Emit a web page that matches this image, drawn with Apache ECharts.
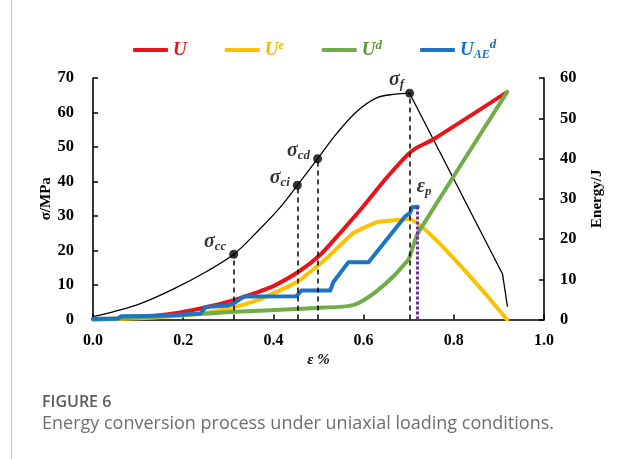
<!DOCTYPE html>
<html><head><meta charset="utf-8">
<script src="https://cdn.jsdelivr.net/npm/echarts@6/dist/echarts.min.js"></script>
<style>html,body{margin:0;padding:0;background:#fff;}#c{width:622px;height:459px;}</style>
</head><body><div id="c"></div>
<script>
// ---- data ----
const sigmaStrain = [0, 0.05, 0.105, 0.179, 0.253, 0.312, 0.363, 0.415, 0.453, 0.498, 0.541, 0.585, 0.63, 0.67, 0.702, 0.908, 0.919];
const sigmaStress = [0.8, 2.4, 4.6, 8.9, 14.0, 18.9, 25.3, 32.5, 38.9, 46.6, 54.0, 60.3, 64.3, 65.3, 65.6, 13.2, 3.7];
const sigmaPeakIndex = 14;

const uStrain = [0, 0.06, 0.12, 0.19, 0.253, 0.312, 0.36, 0.4, 0.455, 0.504, 0.548, 0.6, 0.651, 0.699, 0.718, 0.755, 0.918];
const uEnergy = [0, 0.2, 0.7, 1.7, 3.1, 4.8, 6.6, 8.3, 11.8, 16.1, 21.5, 28.2, 35.2, 41.1, 42.7, 44.8, 56.5];

const ueStrain = [0, 0.1, 0.2, 0.26, 0.312, 0.36, 0.4, 0.455, 0.504, 0.526, 0.578, 0.63, 0.66, 0.70, 0.918];
const ueEnergy = [0, 0.3, 1.0, 1.8, 3.0, 4.6, 6.5, 9.5, 13.9, 16.1, 21.5, 24.2, 24.6, 25.0, 0];

const udStrain = [0, 0.1, 0.2, 0.312, 0.45, 0.5, 0.555, 0.58, 0.6, 0.63, 0.667, 0.70, 0.71, 0.72, 0.918];
const udEnergy = [0, 0.5, 1.1, 1.9, 2.6, 2.9, 3.2, 3.7, 4.8, 7.1, 10.8, 15.0, 18.3, 21.4, 56.5];

const uaeStrain = [0, 0.055, 0.062, 0.12, 0.18, 0.238, 0.25, 0.30, 0.315, 0.334, 0.451, 0.462, 0.526, 0.533, 0.566, 0.611, 0.692, 0.703, 0.708, 0.72];
const uaeEnergy = [0.2, 0.2, 0.8, 0.9, 1.1, 1.5, 3.1, 3.5, 4.2, 5.7, 5.8, 7.2, 7.2, 9.3, 14.2, 14.2, 25.6, 26.5, 27.9, 28.0];

const keyNames = ['cc', 'ci', 'cd', 'f'];
const keyStrain = [0.312, 0.453, 0.498, 0.702];
const keyStress = [18.9, 38.9, 46.6, 65.6];
const keyLabelOffsets = [[-1, -12], [-1, -7], [-1, -8], [1, -13]];

const epsPStrain = 0.72;
const epsPEnergy = 28.0;

const xTicks = [0, 0.2, 0.4, 0.6, 0.8, 1.0];
const seriesNames = ['U', 'Ue', 'Ud', 'UAEd'];
const seriesColors = ['#E8141B', '#FFC000', '#70AD47', '#1B75C4'];

// ---- helpers ----
const zip = (xs, ys) => xs.map((x, i) => [x, ys[i]]);
const SERIF = '"Liberation Serif", "Times New Roman", serif';

const chart = echarts.init(document.getElementById('c'), null, {renderer: 'canvas'});

const legendRich = {
  r: {color: '#E8141B', fontFamily: SERIF, fontStyle: 'italic', fontWeight: 'bold', fontSize: 19},
  y: {color: '#F8B800', fontFamily: SERIF, fontStyle: 'italic', fontWeight: 'bold', fontSize: 19},
  ySup: {color: '#F8B800', fontFamily: SERIF, fontStyle: 'italic', fontWeight: 'bold', fontSize: 12, padding: [0, 0, 9, 0]},
  g: {color: '#5F9632', fontFamily: SERIF, fontStyle: 'italic', fontWeight: 'bold', fontSize: 19},
  gSup: {color: '#5F9632', fontFamily: SERIF, fontStyle: 'italic', fontWeight: 'bold', fontSize: 13, padding: [0, 0, 8, 0]},
  b: {color: '#1B6FC0', fontFamily: SERIF, fontStyle: 'italic', fontWeight: 'bold', fontSize: 19},
  bSub: {color: '#1B6FC0', fontFamily: SERIF, fontStyle: 'italic', fontWeight: 'bold', fontSize: 12, padding: [9, 0, 0, 0]},
  bSup: {color: '#1B6FC0', fontFamily: SERIF, fontStyle: 'italic', fontWeight: 'bold', fontSize: 13, padding: [0, 0, 11, 0]}
};
const legendText = {
  'U': '{r|U}',
  'Ue': '{y|U}{ySup|e}',
  'Ud': '{g|U}{gSup|d}',
  'UAEd': '{b|U}{bSub|AE}{bSup|d}'
};

const labelRich = {
  s: {fontFamily: SERIF, fontStyle: 'italic', fontWeight: 'bold', fontSize: 20, color: '#000'},
  sub: {fontFamily: SERIF, fontStyle: 'italic', fontWeight: 'bold', fontSize: 13, color: '#000', padding: [9, 0, 0, 0]}
};

const lineSeries = (name, xs, ys, color, smooth) => ({
  name, type: 'line', yAxisIndex: 1, data: zip(xs, ys),
  showSymbol: false, symbol: 'none', smooth: smooth,
  lineStyle: {color, width: 4, cap: 'round', join: 'round'},
  itemStyle: {color}, z: 3
});

const option = {
  animation: false,
  backgroundColor: '#fff',
  grid: {left: 93, right: 78, top: 78, bottom: 139.5, containLabel: false},
  legend: {
    data: seriesNames, left: 128, top: 33, itemWidth: 35, itemHeight: 4, itemGap: 38,
    icon: 'roundRect',
    formatter: name => legendText[name],
    textStyle: {fontFamily: SERIF, fontStyle: 'italic', fontWeight: 'bold', fontSize: 19, rich: legendRich}
  },
  xAxis: {
    type: 'value', min: 0, max: 1, interval: 0.2,
    name: 'ε %', nameLocation: 'middle', nameGap: 33, nameMoveOverlap: false,
    nameTextStyle: {fontFamily: SERIF, fontWeight: 'bold', fontStyle: 'italic', fontSize: 15, color: '#000'},
    axisLine: {show: true, lineStyle: {color: '#000', width: 1.6}},
    axisTick: {show: true, inside: true, length: 5, lineStyle: {color: '#000', width: 1.5}},
    axisLabel: {margin: 13, fontFamily: SERIF, fontWeight: 'bold', fontSize: 16, color: '#000',
      formatter: v => xTicks.indexOf(v) >= 0 ? v.toFixed(1) : ''},
    splitLine: {show: false}
  },
  yAxis: [{
    type: 'value', min: 0, max: 70, interval: 10, position: 'left',
    name: 'σ/MPa', nameLocation: 'middle', nameRotate: 90, nameGap: 39, nameMoveOverlap: false,
    nameTextStyle: {fontFamily: SERIF, fontWeight: 'bold', fontSize: 15, color: '#000'},
    axisLine: {show: true, lineStyle: {color: '#000', width: 1.6}},
    axisTick: {show: true, inside: true, length: 5, lineStyle: {color: '#000', width: 1.5}},
    axisLabel: {margin: 19, fontFamily: SERIF, fontWeight: 'bold', fontSize: 16.5, color: '#000'},
    splitLine: {show: false}
  }, {
    type: 'value', min: 0, max: 60, interval: 10, position: 'right',
    name: 'Energy/J', nameLocation: 'middle', nameRotate: 90, nameGap: 46, nameMoveOverlap: false,
    nameTextStyle: {fontFamily: SERIF, fontWeight: 'bold', fontSize: 15, color: '#000'},
    axisLine: {show: true, lineStyle: {color: '#000', width: 1.6}},
    axisTick: {show: true, inside: true, length: 5, lineStyle: {color: '#000', width: 1.5}},
    axisLabel: {margin: 16, fontFamily: SERIF, fontWeight: 'bold', fontSize: 16.5, color: '#000'},
    splitLine: {show: false}
  }],
  graphic: [
    {type: 'rect', shape: {x: 11, y: 0, width: 1.2, height: 459}, style: {fill: '#cfcfcf'}, silent: true},
    {type: 'text', left: 42, top: 394, style: {text: 'FIGURE 6', font: '600 16px "Open Sans"', fill: '#5a5a5a'}},
    {type: 'text', left: 42, top: 415, style: {text: 'Energy conversion process under uniaxial loading conditions.', font: '400 18px "Open Sans"', fill: '#6e6e6e'}}
  ],
  series: [
    {
      name: 'sigmaRise', type: 'line', yAxisIndex: 0,
      data: zip(sigmaStrain.slice(0, sigmaPeakIndex + 1), sigmaStress.slice(0, sigmaPeakIndex + 1)),
      smooth: 0.35, symbol: 'none', lineStyle: {color: '#000', width: 1.3}, z: 2
    },
    {
      name: 'sigmaFall', type: 'line', yAxisIndex: 0,
      data: zip(sigmaStrain.slice(sigmaPeakIndex), sigmaStress.slice(sigmaPeakIndex)),
      smooth: false, symbol: 'none', lineStyle: {color: '#000', width: 1.3}, z: 2
    },
    lineSeries('U', uStrain, uEnergy, seriesColors[0], 0.2),
    lineSeries('Ue', ueStrain, ueEnergy, seriesColors[1], 0.15),
    lineSeries('Ud', udStrain, udEnergy, seriesColors[2], 0.1),
    lineSeries('UAEd', uaeStrain, uaeEnergy, seriesColors[3], false),
    {
      name: 'keyPoints', type: 'scatter', yAxisIndex: 0,
      data: keyStrain.map((x, i) => ({
        value: [x, keyStress[i]],
        label: {offset: keyLabelOffsets[i]}
      })),
      symbol: 'circle', symbolSize: 9, itemStyle: {color: '#000'}, z: 6,
      label: {
        show: true, position: 'left', distance: 2,
        formatter: p => '{s|σ}{sub|' + keyNames[p.dataIndex] + '}',
        rich: labelRich
      },
      markLine: {
        silent: true, symbol: ['none', 'none'], label: {show: false},
        lineStyle: {color: '#000', width: 1.5, type: [5, 4]},
        data: keyStrain.map((x, i) => [{coord: [x, 0]}, {coord: [x, keyStress[i]]}])
      }
    },
    {
      name: 'epsP', type: 'scatter', yAxisIndex: 1,
      data: [[epsPStrain, epsPEnergy]], symbolSize: 0, z: 6,
      label: {
        show: true, position: 'right', distance: 0, offset: [-1, -20],
        formatter: () => '{s|ε}{sub|p}', rich: labelRich
      },
      markLine: {
        silent: true, symbol: ['none', 'none'], label: {show: false},
        lineStyle: {color: '#7030A0', width: 3, type: [3, 2]},
        data: [[{coord: [epsPStrain, 0]}, {coord: [epsPStrain, epsPEnergy]}]]
      }
    }
  ]
};
chart.setOption(option);
</script></body></html>
